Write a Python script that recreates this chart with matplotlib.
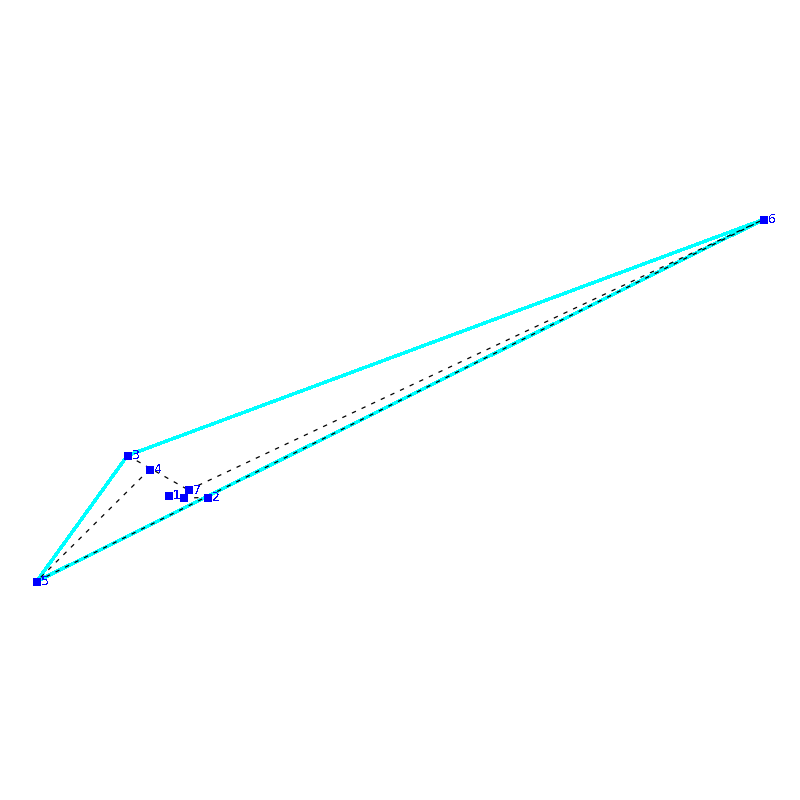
import matplotlib
matplotlib.use("Agg")
import matplotlib.pyplot as plt

# point positions
labels = ["1", "2", "3", "4", "5", "6", "7", ""]
xs = [168.5, 207.5, 127.5, 149.5, 36.5, 763.5, 188.5, 183.5]
ys = [495.5, 497.5, 455.5, 469.5, 581.5, 219.5, 490, 498]

# index pairs into the point lists
hull = [(2, 5), (5, 4), (4, 2)]
dashed = [(2, 6), (3, 4), (6, 5), (4, 5), (7, 1)]
red = [(6, 7)]


def main():
    plt.rcParams["text.antialiased"] = False
    fig = plt.figure(figsize=(8, 8), dpi=100)
    ax = fig.add_axes([0, 0, 1, 1])
    ax.set_xlim(0, 800)
    ax.set_ylim(800, 0)
    ax.axis("off")

    for a, b in hull:
        ax.plot([xs[a], xs[b]], [ys[a], ys[b]], color="#00ffff", lw=1.7,
                antialiased=False, zorder=1)
    for a, b in dashed:
        ax.plot([xs[a], xs[b]], [ys[a], ys[b]], color="black", lw=0.9,
                ls=(0, (3.5, 5)), antialiased=True, zorder=2)
    for a, b in red:
        ax.plot([xs[a], xs[b]], [ys[a], ys[b]], color="red", lw=0.8,
                antialiased=False, zorder=2)

    ax.plot(xs, ys, ls="none", marker="s", ms=5.8, mfc="#0000ff", mec="#0000ff",
            mew=0, antialiased=False, zorder=3)
    for x, y, s in zip(xs, ys, labels):
        ax.text(x + 4.5, y, s, color="#0000ff", fontsize=9, family="DejaVu Sans",
                va="center", ha="left", zorder=4)

    fig.savefig("out.png", dpi=100)


if __name__ == "__main__":
    main()
